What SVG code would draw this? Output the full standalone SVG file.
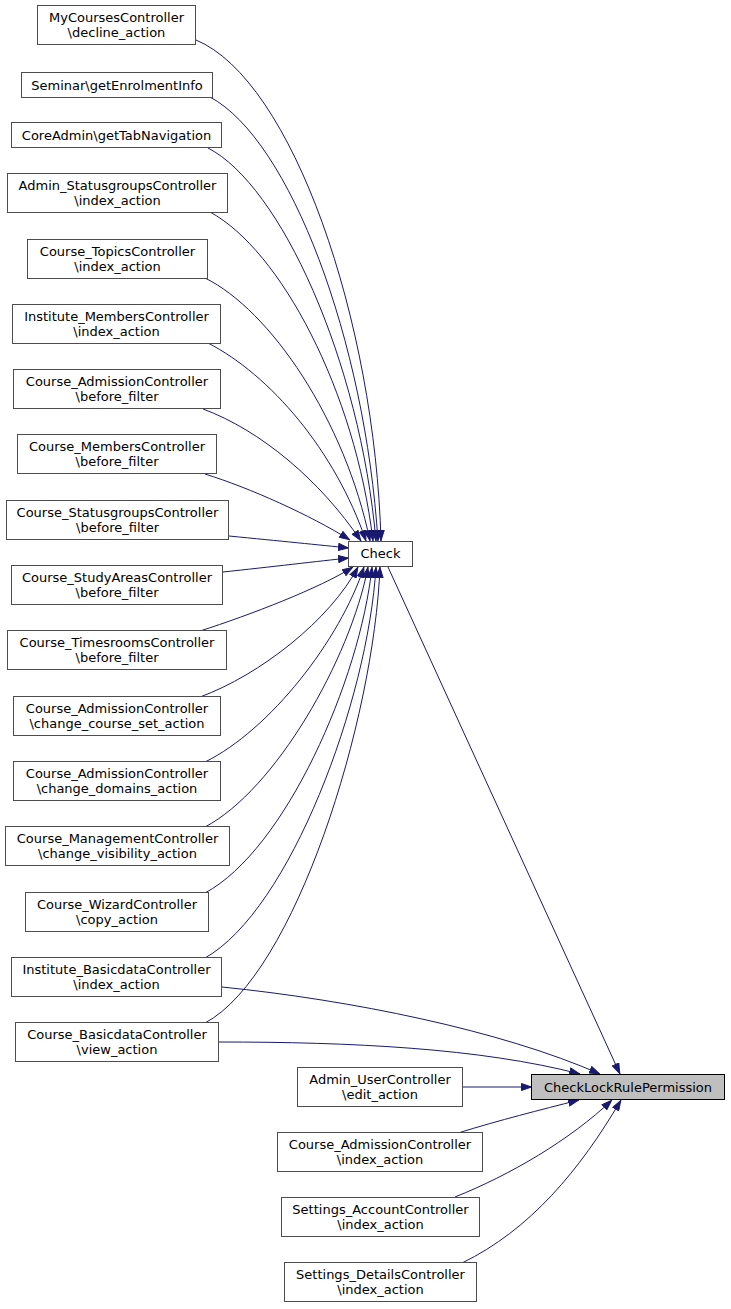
<svg xmlns="http://www.w3.org/2000/svg" width="731" height="1309" viewBox="0 0 731 1309">
<style>
.n rect{fill:#ffffff;stroke:#4d4d4d;stroke-width:1}
.h rect{fill:#bfbfbf;stroke:#000000;stroke-width:1}
text{font-family:"DejaVu Sans","Liberation Sans",sans-serif;font-size:13px;fill:#000000;text-anchor:middle}
.e path{fill:none;stroke:#191970;stroke-width:1;marker-end:url(#ah)}
</style>
<defs>
<marker id="ah" viewBox="0 0 11 8" refX="11" refY="4" markerWidth="11" markerHeight="8" markerUnits="userSpaceOnUse" orient="auto">
<path d="M0.5,0.5 L10.5,4 L0.5,7.5 Z" fill="#191970" stroke="#191970" stroke-width="1"/>
</marker>
</defs>
<rect x="0" y="0" width="731" height="1309" fill="#ffffff"/>
<g id="edges" class="e">
<path d="M196,40 C292,80 375,320 381,541"/>
<path d="M210,97 C290,140 365,340 378,541"/>
<path d="M208,148 C280,185 360,360 376,541"/>
<path d="M210,212 C280,250 355,390 373,541"/>
<path d="M205,278 C270,310 345,420 370,541"/>
<path d="M208,343 C270,375 335,450 366,541"/>
<path d="M203,409 C260,430 320,480 361,541"/>
<path d="M205,474 C250,488 310,515 350,540"/>
<path d="M229,536 C280,541 320,545 349,548"/>
<path d="M223,572 C270,567 320,561 349,558"/>
<path d="M200,631 C250,615 320,588 353,567"/>
<path d="M200,697 C260,675 330,620 358,567"/>
<path d="M205,762 C270,730 340,640 364,567"/>
<path d="M205,827 C275,790 350,660 368,567"/>
<path d="M205,893 C285,850 360,680 372,567"/>
<path d="M205,958 C290,910 368,700 376,567"/>
<path d="M205,1023 C295,975 374,720 380,567"/>
<path d="M388,567 L620,1074"/>
<path d="M222,987 C350,1000 500,1030 600,1074"/>
<path d="M219,1042 C350,1042 480,1048 580,1074"/>
<path d="M463,1087 L532,1087"/>
<path d="M458,1133 C500,1120 540,1110 579,1100"/>
<path d="M455,1197 C510,1175 570,1140 612,1100"/>
<path d="M462,1263 C530,1230 580,1170 621,1100"/>
</g>
<g id="n1" class="n"><rect x="37.5" y="5.5" width="158" height="39"/><text x="116.5" y="22">MyCoursesController</text><text x="116.5" y="37">\decline_action</text></g>
<g id="n2" class="n"><rect x="21.5" y="72.5" width="191" height="25"/><text x="117" y="89.5">Seminar\getEnrolmentInfo</text></g>
<g id="n3" class="n"><rect x="11.5" y="122.5" width="210" height="25"/><text x="116.5" y="139.5">CoreAdmin\getTabNavigation</text></g>
<g id="n4" class="n"><rect x="7.5" y="173.5" width="220" height="39"/><text x="117.5" y="190">Admin_StatusgroupsController</text><text x="117.5" y="205">\index_action</text></g>
<g id="n5" class="n"><rect x="27.5" y="239.5" width="180" height="39"/><text x="117.5" y="256">Course_TopicsController</text><text x="117.5" y="271">\index_action</text></g>
<g id="n6" class="n"><rect x="12.5" y="304.5" width="208" height="39"/><text x="116.5" y="321">Institute_MembersController</text><text x="116.5" y="336">\index_action</text></g>
<g id="n7" class="n"><rect x="13.5" y="369.5" width="207" height="39"/><text x="117" y="386">Course_AdmissionController</text><text x="117" y="401">\before_filter</text></g>
<g id="n8" class="n"><rect x="17.5" y="434.5" width="199" height="39"/><text x="117" y="451">Course_MembersController</text><text x="117" y="466">\before_filter</text></g>
<g id="n9" class="n"><rect x="6.5" y="500.5" width="222" height="39"/><text x="117.5" y="517">Course_StatusgroupsController</text><text x="117.5" y="532">\before_filter</text></g>
<g id="n10" class="n"><rect x="11.5" y="565.5" width="211" height="39"/><text x="117" y="582">Course_StudyAreasController</text><text x="117" y="597">\before_filter</text></g>
<g id="n11" class="n"><rect x="7.5" y="630.5" width="219" height="39"/><text x="117" y="647">Course_TimesroomsController</text><text x="117" y="662">\before_filter</text></g>
<g id="n12" class="n"><rect x="13.5" y="696.5" width="207" height="39"/><text x="117" y="713">Course_AdmissionController</text><text x="117" y="728">\change_course_set_action</text></g>
<g id="n13" class="n"><rect x="13.5" y="761.5" width="207" height="39"/><text x="117" y="778">Course_AdmissionController</text><text x="117" y="793">\change_domains_action</text></g>
<g id="n14" class="n"><rect x="5.5" y="826.5" width="224" height="39"/><text x="117.5" y="843">Course_ManagementController</text><text x="117.5" y="858">\change_visibility_action</text></g>
<g id="n15" class="n"><rect x="25.5" y="892.5" width="183" height="39"/><text x="117" y="909">Course_WizardController</text><text x="117" y="924">\copy_action</text></g>
<g id="n16" class="n"><rect x="11.5" y="957.5" width="210" height="39"/><text x="116.5" y="974">Institute_BasicdataController</text><text x="116.5" y="989">\index_action</text></g>
<g id="n17" class="n"><rect x="15.5" y="1022.5" width="203" height="39"/><text x="117" y="1039">Course_BasicdataController</text><text x="117" y="1054">\view_action</text></g>
<g id="n18" class="n"><rect x="297.5" y="1067.5" width="165" height="39"/><text x="380" y="1084">Admin_UserController</text><text x="380" y="1099">\edit_action</text></g>
<g id="n19" class="n"><rect x="277.5" y="1132.5" width="205" height="39"/><text x="380" y="1149">Course_AdmissionController</text><text x="380" y="1164">\index_action</text></g>
<g id="n20" class="n"><rect x="281.5" y="1197.5" width="198" height="39"/><text x="380.5" y="1214">Settings_AccountController</text><text x="380.5" y="1229">\index_action</text></g>
<g id="n21" class="n"><rect x="284.5" y="1262.5" width="192" height="39"/><text x="380.5" y="1279">Settings_DetailsController</text><text x="380.5" y="1294">\index_action</text></g>
<g id="check" class="n"><rect x="348.5" y="541.5" width="64" height="25"/><text x="380.5" y="558">Check</text></g>
<g id="checklock" class="h"><rect x="531.5" y="1074.5" width="193" height="25"/><text x="628" y="1091.5">CheckLockRulePermission</text></g>
</svg>
